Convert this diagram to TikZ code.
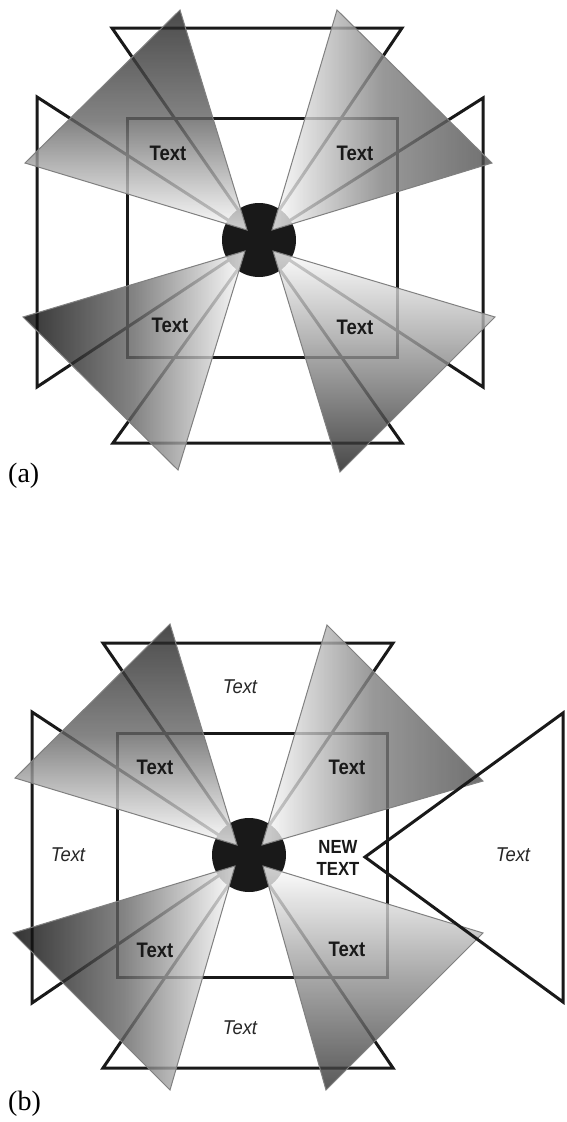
\documentclass[tikz,border=0pt]{standalone}
\usepackage{graphicx}
\usepackage{fontspec}
\setmainfont{Liberation Serif}
\newfontfamily\lsans{Liberation Sans}
\begin{document}
\begin{tikzpicture}[x=1pt,y=-1pt,
  blk/.style={draw=black!90, line width=3pt, line join=miter},
  fanedge/.style={draw=black!50, line width=1pt, line join=miter},
  fanfill/.style={fill opacity=0.8},
  boldlbl/.style={font=\lsans\bfseries\fontsize{21}{21}\selectfont, inner sep=0pt, text=black!90},
  newlbl/.style={font=\lsans\bfseries\fontsize{19}{22}\selectfont, inner sep=0pt, align=center, text=black!90},
  itlbl/.style={font=\lsans\itshape\fontsize{20}{20}\selectfont, inner sep=0pt, text=black!85},
  caplbl/.style={font=\fontsize{28}{28}\selectfont, inner sep=0pt, anchor=west}]
\useasboundingbox[fill=white] (0,0) rectangle (566,1122);

% ================= (a) =================
\coordinate (ca) at (259,240);
\draw[blk] (112,28) -- (ca) -- (402,28) -- cycle;
\draw[blk] (113,443) -- (ca) -- (402,443) -- cycle;
\draw[blk] (37,97) -- (ca) -- (37,387) -- cycle;
\draw[blk] (483,98) -- (ca) -- (483,387) -- cycle;
\draw[blk] (127,118) rectangle (397,357);
\fill[black!90] (ca) circle[radius=37];

% fans (a)
\coordinate (aTL) at (247,230); \coordinate (aTR) at (272,230);
\coordinate (aBL) at (245,251); \coordinate (aBR) at (273,251);
\begin{scope}
  \clip (aTL) -- (180,10) -- (25,163) -- cycle;
  \shade[fanfill, top color=black!88, bottom color=white, middle color=black!60] (20,10) rectangle (250,232);
\end{scope}
\draw[fanedge] (aTL) -- (180,10) -- (25,163) -- cycle;
\begin{scope}
  \clip (aTR) -- (337,10) -- (492,163) -- cycle;
  \shade[fanfill, left color=white, right color=black!70, middle color=black!50] (270,8) rectangle (494,232);
\end{scope}
\draw[fanedge] (aTR) -- (337,10) -- (492,163) -- cycle;
\begin{scope}
  \clip (aBL) -- (23,317) -- (178,470) -- cycle;
  \shade[fanfill, left color=black, right color=white, middle color=black!60] (21,248) rectangle (247,472);
\end{scope}
\draw[fanedge] (aBL) -- (23,317) -- (178,470) -- cycle;
\begin{scope}
  \clip (aBR) -- (495,317) -- (340,472) -- cycle;
  \shade[fanfill, top color=white, bottom color=black!90, middle color=black!45] (270,248) rectangle (497,474);
\end{scope}
\draw[fanedge] (aBR) -- (495,317) -- (340,472) -- cycle;

\node[boldlbl] (ta1) at (168,153) {\scalebox{0.88}[1]{Text}};
\node[boldlbl] (ta2) at (355,153) {\scalebox{0.88}[1]{Text}};
\node[boldlbl] (ta3) at (170,325) {\scalebox{0.88}[1]{Text}};
\node[boldlbl] (ta4) at (355,327) {\scalebox{0.88}[1]{Text}};
\node[caplbl] (capa) at (8,476) {(a)};

% ================= (b) =================
\coordinate (cb) at (249,855);
\draw[blk] (103,643) -- (cb) -- (393,643) -- cycle;
\draw[blk] (103,1068) -- (cb) -- (393,1068) -- cycle;
\draw[blk] (32,712) -- (cb) -- (32,1003) -- cycle;
\draw[blk] (117,733) rectangle (387,977);
\fill[black!90] (cb) circle[radius=37];

\coordinate (bTL) at (237,845); \coordinate (bTR) at (262,845);
\coordinate (bBL) at (235,866); \coordinate (bBR) at (263,866);
\begin{scope}
  \clip (bTL) -- (170,624) -- (15,778) -- cycle;
  \shade[fanfill, top color=black!88, bottom color=white, middle color=black!60] (10,624) rectangle (240,847);
\end{scope}
\draw[fanedge] (bTL) -- (170,624) -- (15,778) -- cycle;
\begin{scope}
  \clip (bTR) -- (327,625) -- (483,781) -- cycle;
  \shade[fanfill, left color=white, right color=black!70, middle color=black!50] (260,622) rectangle (485,847);
\end{scope}
\draw[fanedge] (bTR) -- (327,625) -- (483,781) -- cycle;
\begin{scope}
  \clip (bBL) -- (13,933) -- (170,1090) -- cycle;
  \shade[fanfill, left color=black, right color=white, middle color=black!60] (11,863) rectangle (237,1092);
\end{scope}
\draw[fanedge] (bBL) -- (13,933) -- (170,1090) -- cycle;
\begin{scope}
  \clip (bBR) -- (483,933) -- (326,1090) -- cycle;
  \shade[fanfill, top color=white, bottom color=black!82, middle color=black!43] (260,864) rectangle (485,1092);
\end{scope}
\draw[fanedge] (bBR) -- (483,933) -- (326,1090) -- cycle;

\draw[blk] (563,713) -- (365,857) -- (563,1002) -- cycle;

\node[boldlbl] (tb1) at (155,767) {\scalebox{0.88}[1]{Text}};
\node[boldlbl] (tb2) at (347,767) {\scalebox{0.88}[1]{Text}};
\node[boldlbl] (tb3) at (155,950) {\scalebox{0.88}[1]{Text}};
\node[boldlbl] (tb4) at (347,949) {\scalebox{0.88}[1]{Text}};
\node[newlbl] (newt) at (338,858) {\scalebox{0.88}[1]{NEW}\\\scalebox{0.88}[1]{TEXT}};
\node[itlbl] (it1) at (240,687) {\scalebox{0.92}[1]{Text}};
\node[itlbl] (it2) at (68,855) {\scalebox{0.92}[1]{Text}};
\node[itlbl] (it3) at (513,855) {\scalebox{0.92}[1]{Text}};
\node[itlbl] (it4) at (240,1028) {\scalebox{0.92}[1]{Text}};
\node[caplbl] (capb) at (8,1104) {(b)};
\end{tikzpicture}
\end{document}
